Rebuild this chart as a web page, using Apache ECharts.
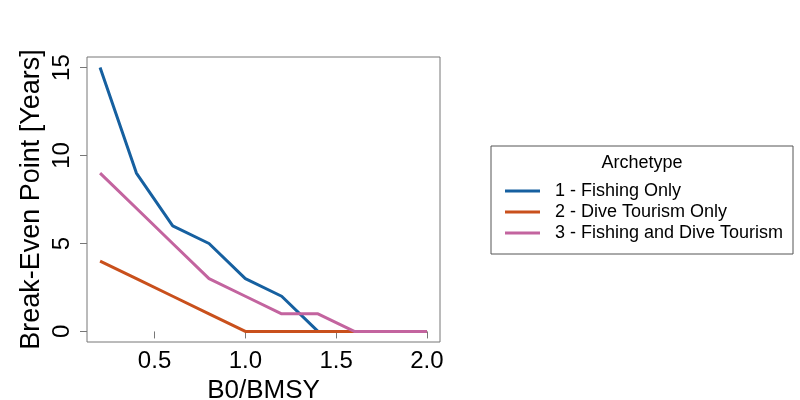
<!DOCTYPE html>
<html>
<head>
<meta charset="utf-8">
<script src="https://cdn.jsdelivr.net/npm/echarts@6/dist/echarts.min.js"></script>
<style>html,body{margin:0;padding:0;background:#fff}#c{width:800px;height:400px}</style>
</head>
<body>
<div id="c"></div>
<script>
var xValues = [0.2, 0.4, 0.6, 0.8, 1.0, 1.2, 1.4, 1.6, 1.8, 2.0];
var fishingOnly = [15, 9, 6, 5, 3, 2, 0, 0, 0, 0];
var diveOnly = [4, 3, 2, 1, 0, 0, 0, 0, 0, 0];
var fishingDive = [9, 7, 5, 3, 2, 1, 1, 0, 0, 0];
var seriesNames = ['1 - Fishing Only', '2 - Dive Tourism Only', '3 - Fishing and Dive Tourism'];
var xTicks = [0.5, 1.0, 1.5, 2.0];
var yTicks = [0, 5, 10, 15];

function pairs(arr){ return xValues.map(function(x,i){ return [x, arr[i]]; }); }
var colors = ['#1660a0', '#c9501c', '#c3649f'];
var font = 'Liberation Sans, Arial, sans-serif';

var chart = echarts.init(document.getElementById('c'), null, {renderer:'canvas'});
chart.setOption({
  animation: false,
  backgroundColor: '#fff',
  grid: {left: 87, right: 360, top: 57, bottom: 58, show: true, borderColor: '#777', borderWidth: 1, containLabel: false, outerBoundsMode: 'none'},
  xAxis: {
    type: 'value', min: 0.128, max: 2.072,
    name: 'B0/BMSY', nameLocation: 'middle', nameGap: 29,
    nameTextStyle: {fontSize: 26, color: '#000', fontFamily: font},
    axisLine: {show: false},
    splitLine: {show: false},
    axisTick: {show: true, length: 7, lineStyle: {color: '#777'}, customValues: xTicks},
    axisLabel: {fontSize: 24, color: '#000', fontFamily: font, margin: 7, customValues: xTicks,
      formatter: function(v){ return v.toFixed(1); }}
  },
  yAxis: {
    type: 'value', min: -0.6, max: 15.6,
    name: 'Break-Even Point [Years]', nameLocation: 'middle', nameGap: 42, nameRotate: 90,
    nameTextStyle: {fontSize: 27, color: '#000', fontFamily: font},
    axisLine: {show: false},
    splitLine: {show: false},
    axisTick: {show: true, length: 7, lineStyle: {color: '#777'}, customValues: yTicks},
    axisLabel: {fontSize: 24, color: '#000', fontFamily: font, rotate: 90, margin: 13, customValues: yTicks}
  },
  legend: {
    left: 505, top: 182, orient: 'vertical', padding: 0,
    data: seriesNames,
    icon: 'rect', itemWidth: 35, itemHeight: 3, itemGap: 3,
    textStyle: {fontSize: 18, color: '#000', fontFamily: font, padding: [0,0,0,10], lineHeight: 18}
  },
  graphic: [
    {type: 'rect', shape: {x: 491, y: 146, width: 302, height: 108}, style: {fill: 'none', stroke: '#555', lineWidth: 1}, silent: true},
    {type: 'text', x: 642, y: 163, style: {text: 'Archetype', font: '18px Liberation Sans, Arial, sans-serif', fill: '#000', textAlign: 'center', textVerticalAlign: 'middle'}}
  ],
  series: [
    {name: seriesNames[0], type: 'line', data: pairs(fishingOnly), symbol: 'none', lineStyle: {width: 3, color: colors[0]}, itemStyle: {color: colors[0]}, z: 3},
    {name: seriesNames[1], type: 'line', data: pairs(diveOnly), symbol: 'none', lineStyle: {width: 3, color: colors[1]}, itemStyle: {color: colors[1]}, z: 4},
    {name: seriesNames[2], type: 'line', data: pairs(fishingDive), symbol: 'none', lineStyle: {width: 3, color: colors[2]}, itemStyle: {color: colors[2]}, z: 5}
  ]
});
</script>
</body>
</html>
